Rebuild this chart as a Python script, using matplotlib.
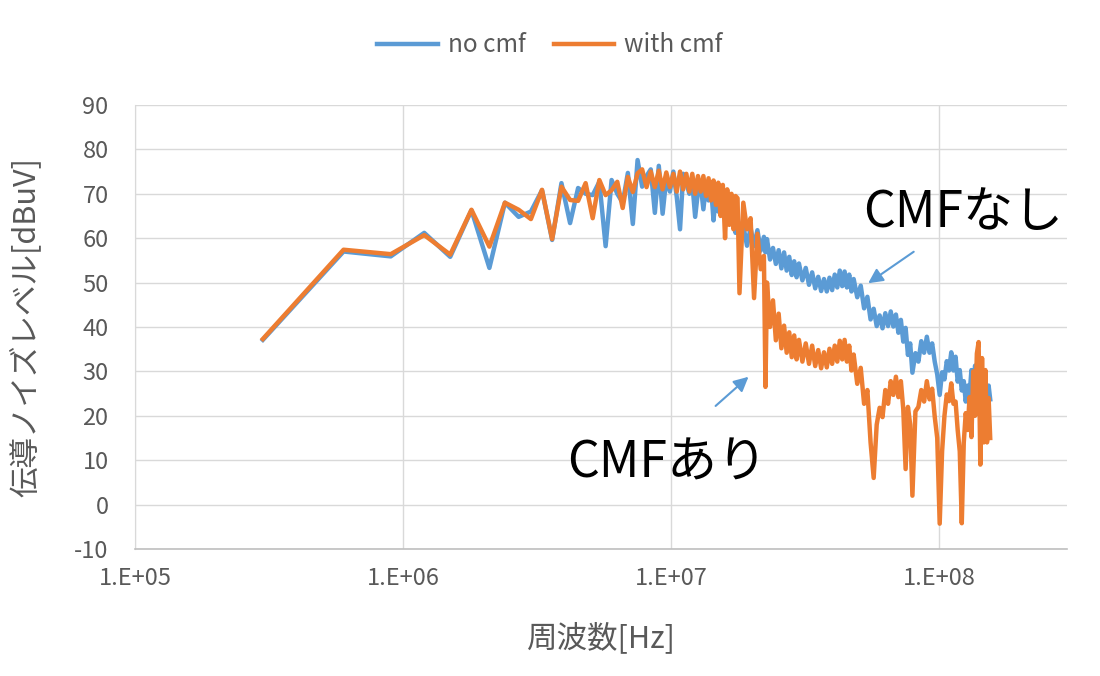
import matplotlib
matplotlib.use("Agg")
import matplotlib.pyplot as plt
from matplotlib.ticker import FixedLocator, NullLocator

plt.rcParams['font.family'] = ['Noto Sans CJK JP', 'DejaVu Sans']
plt.rcParams['axes.unicode_minus'] = False

# frequency [MHz], shared by both traces
freq_mhz = [
    0.3, 0.6, 0.9, 1.2, 1.5, 1.8, 2.1, 2.4, 2.7, 3.0,
    3.3, 3.6, 3.9, 4.2, 4.5, 4.8, 5.1, 5.4, 5.7, 6.0,
    6.3, 6.6, 6.9, 7.2, 7.5,
    7.8, 8.1, 8.4, 8.7, 9.0, 9.3, 9.6, 9.9, 10.2, 10.5,
    10.8, 11.1, 11.4, 11.7, 12.0, 12.3, 12.6, 12.9, 13.2, 13.5,
    13.8, 14.1, 14.4, 14.7, 15.0, 15.3, 15.6, 15.9, 16.2, 16.5,
    16.8, 17.1, 17.4, 17.7, 18.0,
    18.6, 19.2, 19.8, 20.4, 21.0, 21.6, 22.2, 22.5, 22.8, 23.4,
    24.0, 24.6, 25.2, 25.8, 26.4, 27.0, 27.6, 28.2, 28.8, 29.4, 30.0,
    30.9, 31.8, 32.7, 33.6, 34.5, 35.4, 36.3, 37.2, 38.1, 39.0,
    39.9, 40.8, 41.7, 42.6, 43.5, 44.4, 45.3, 46.2, 47.1, 48.0,
    49.5, 51.0, 52.5, 54.0, 55.5, 57.0, 58.5, 60.0, 61.5, 63.0,
    64.5, 66.0, 67.5, 69.0, 70.5, 72.0, 73.5, 75.0, 76.5, 78.0, 79.5,
    81.6, 83.7, 85.8, 87.9, 90.0, 92.1, 94.2, 96.3, 98.4, 100.5,
    102.6, 104.7, 106.8, 108.9, 111.0, 113.1, 115.2, 117.3, 119.4, 121.5,
    123.6, 125.7, 127.8, 129.9, 132.0, 134.1, 136.2, 138.3, 140.4, 142.5,
    144.6, 146.7, 148.8, 150.9, 153.0, 155.1,
]

# conducted noise level [dBuV]
no_cmf = [
    37.1, 57.0, 55.9, 61.2, 55.8, 66.3, 53.3, 68.0, 64.8, 66.0,
    70.8, 59.6, 72.4, 63.4, 71.3, 70.0, 69.7, 72.7, 58.2, 73.1,
    70.0, 68.0, 74.7, 63.2, 77.6,
    71.6, 74.0, 75.5, 65.7, 76.3, 65.5, 73.5, 70.5, 75.0, 69.3,
    62.0, 74.5, 72.5, 70.0, 72.5, 64.8, 70.5, 72.0, 66.5, 72.0,
    68.5, 71.5, 64.0, 70.0, 66.0, 70.5, 65.5, 69.0, 64.5, 68.0,
    63.5, 66.5, 61.2, 64.5, 62.0,
    62.8, 58.3, 62.3, 58.2, 61.8, 57.2, 60.3, 56.8, 59.8, 55.2,
    57.8, 54.2, 57.3, 53.2, 56.8, 52.7, 55.8, 51.7, 54.8, 51.2, 54.3,
    50.5, 53.3, 49.5, 52.3, 48.7, 51.3, 48.1, 50.8, 48.0, 51.1,
    48.3, 51.8, 48.9, 52.7, 49.2, 52.5, 48.9, 51.8, 48.0, 50.8,
    46.7, 49.3, 44.2, 46.8, 41.7, 44.1, 40.2, 42.6, 39.7, 43.1,
    40.2, 43.5, 40.1, 42.8, 38.7, 41.6, 36.7, 39.8, 33.7, 36.3, 29.7,
    34.1, 32.2, 36.8, 34.2, 37.8, 34.2, 36.3, 32.2, 29.3, 24.7,
    29.8, 28.2, 32.3, 30.2, 34.3, 30.2, 33.3, 27.7, 30.3, 25.7,
    27.8, 23.2, 26.8, 24.7, 30.3, 25.7, 31.3, 26.7, 30.8, 25.7,
    28.8, 24.7, 28.3, 24.2, 26.8, 23.7,
]

with_cmf = [
    37.3, 57.4, 56.4, 60.7, 56.3, 66.4, 58.1, 68.0, 66.4, 64.3,
    70.9, 59.8, 71.6, 68.6, 68.4, 72.4, 64.5, 73.1, 69.7, 70.8,
    72.7, 66.8, 73.8, 70.4, 74.6,
    75.5, 71.5, 75.0, 71.5, 75.2, 71.0, 74.8, 71.5, 74.5, 70.5,
    75.0, 71.0, 74.5, 70.5, 74.5, 70.0, 74.0, 70.5, 74.0, 69.5,
    73.5, 68.5, 73.0, 67.5, 72.5, 65.0, 72.0, 60.0, 71.0, 63.0,
    70.0, 62.0, 69.5, 69.0, 47.6,
    68.0, 62.0, 64.5, 46.5, 61.0, 53.0, 56.0, 26.5, 50.0, 40.0,
    46.0, 37.0, 43.0, 35.2, 40.3, 34.2, 38.8, 33.2, 38.1, 32.7, 37.1,
    32.2, 36.3, 31.7, 35.8, 31.2, 34.8, 30.7, 34.3, 30.9, 35.1,
    31.7, 35.8, 32.2, 36.9, 32.7, 37.1, 32.2, 35.8, 30.2, 33.8,
    27.2, 30.8, 22.7, 25.8, 14.0, 6.0, 18.0, 21.8, 19.7, 25.8,
    22.7, 27.8, 24.7, 28.8, 24.2, 27.8, 21.5, 8.0, 22.0, 18.0, 2.0,
    21.0, 22.0, 25.8, 23.2, 27.8, 23.7, 26.1, 19.8, 15.0, -4.3,
    12.0, 20.0, 24.8, 23.3, 27.3, 22.7, 23.2, 16.8, 12.0, -4.2,
    14.0, 20.6, 16.8, 24.2, 15.2, 30.0, 20.0, 34.0, 36.6, 9.0,
    33.0, 14.0, 30.3, 14.0, 24.0, 15.0,
]

x_ticks = [1e5, 1e6, 1e7, 1e8]
x_tick_labels = ['1.E+05', '1.E+06', '1.E+07', '1.E+08']
y_ticks = list(range(-10, 91, 10))

freq_hz = [f * 1e6 for f in freq_mhz]

fig = plt.figure(figsize=(11, 6.76), dpi=100)
ax = fig.add_axes([0.1227, 0.1879, 0.8473, 0.6568])

ax.plot(freq_hz, no_cmf, color='#5B9BD5', lw=3.2, solid_joinstyle='round', label='no cmf')
ax.plot(freq_hz, with_cmf, color='#ED7D31', lw=3.2, solid_joinstyle='round', label='with cmf')

ax.set_xscale('log')
ax.set_xlim(1e5, 3.0e8)
ax.set_ylim(-10, 90)
ax.xaxis.set_major_locator(FixedLocator(x_ticks))
ax.xaxis.set_minor_locator(NullLocator())
ax.set_xticklabels(x_tick_labels)
ax.set_yticks(y_ticks)

ax.grid(True, which='major', color='#D9D9D9', lw=1.0)
ax.set_axisbelow(True)
for s in ['top', 'right']:
    ax.spines[s].set_visible(False)
ax.spines['left'].set_color('#D9D9D9')
ax.spines['bottom'].set_color('#BFBFBF')
ax.spines['bottom'].set_linewidth(1.2)
ax.tick_params(axis='y', length=0, pad=19, labelsize=17, labelcolor='#595959')
ax.tick_params(axis='x', length=0, pad=13, labelsize=17, labelcolor='#595959')

ax.set_xlabel('周波数[Hz]', fontsize=22, color='#595959')
ax.set_ylabel('伝導ノイズレベル[dBuV]', fontsize=22, color='#595959')
ax.xaxis.set_label_coords(0.5, -0.165)
ax.yaxis.set_label_coords(-0.1, 0.5)

# callouts
ax.text(51.9e6, 65.6, 'CMFなし', fontsize=36, va='center', ha='left')
ax.text(4.11e6, 9.2, 'CMFあり', fontsize=36, va='center', ha='left')
arrow = dict(arrowstyle='-|>', color='#5B9BD5', lw=1.5, mutation_scale=22)
ax.annotate('', xy=(53.3e6, 49.5), xytext=(82.0e6, 57.3), arrowprops=arrow)
ax.annotate('', xy=(19.8e6, 29.2), xytext=(14.4e6, 21.8), arrowprops=arrow)

fig.legend(loc='center', bbox_to_anchor=(0.5, 0.933), ncol=2, frameon=False,
           fontsize=17.5, labelcolor='#595959', handlelength=2.5,
           handletextpad=0.4, columnspacing=1.15)

fig.savefig('out.png', dpi=100)
